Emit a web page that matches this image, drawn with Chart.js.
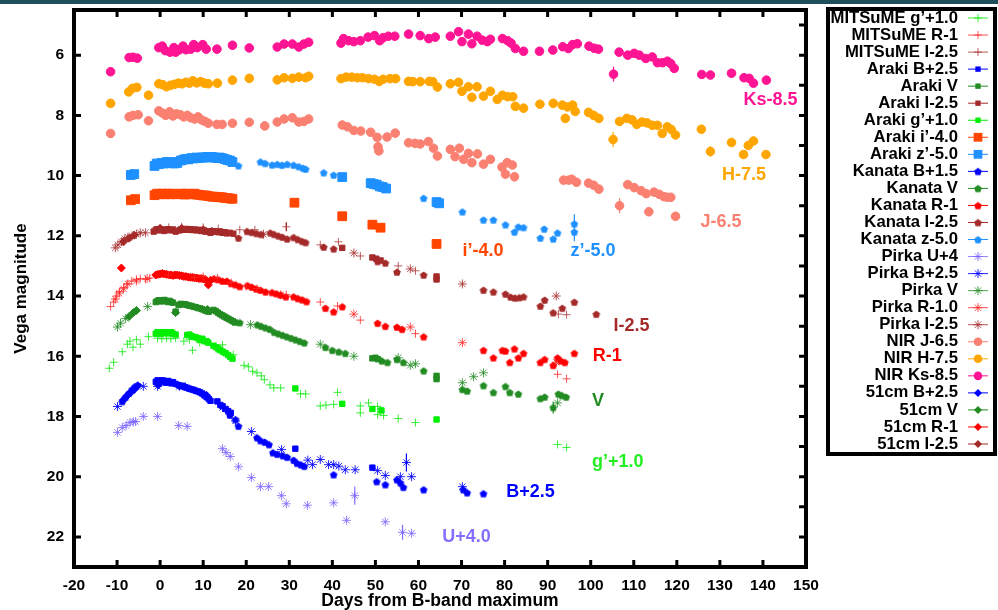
<!DOCTYPE html>
<html>
<head>
<meta charset="utf-8">
<script src="https://cdn.jsdelivr.net/npm/chart.js@4/dist/chart.umd.min.js"></script>
<style>
  html, body { margin: 0; padding: 0; background: #fff; }
  #wrap { position: relative; width: 998px; height: 610px; }
  #topbar { position: absolute; left: 0; top: 0; width: 998px; height: 4px; background: #1f4f5b; }
</style>
</head>
<body>
<div id="wrap">
  <canvas id="lc" width="998" height="610"></canvas>
  <div id="topbar"></div>
</div>
<script>
// Light curves: [day from B max, shifted Vega magnitude]
const mitsumeG = [[-11.8,16.4],[-10.8,16.2],[-8.8,15.85],[-7.6,15.6],[-7.0,15.5],[-6.3,15.7],[-5.5,15.45],[-4.6,15.6],[-2.7,15.35],[-0.6,15.4],[0.4,15.42],[1.5,15.4],[2.5,15.42],[3.6,15.4],[5.5,15.5],[6.8,15.45],[7.5,15.8],[9.2,15.55],[10.5,15.5],[13.0,15.75],[14.5,15.62],[16.0,16.0],[17.0,15.95],[19.5,16.3],[20.5,16.35],[21.5,16.5],[22.5,16.55],[23.5,16.65],[24.2,16.78],[25.5,16.95],[26.4,17.05],[28.0,17.05],[32.6,17.25],[33.8,17.25],[37.2,17.65],[38.5,17.62],[40.3,17.6],[41.2,17.2],[46.5,17.65],[46.5,17.88],[48.4,17.55],[50.5,17.67],[50.5,17.94],[51.9,17.97],[55.3,18.07],[59.3,18.2],[92.3,18.93],[94.4,19.03]];
const mitsumeR = [[-11.5,14.35],[-10.8,14.2],[-10.1,14.0],[-9.4,13.85],[-8.4,13.72],[-7.7,13.6],[-6.6,13.5],[-5.5,13.45],[-4.6,13.42],[-3.4,13.45],[-2.4,13.4],[2.0,13.3],[8.0,13.38],[10.0,13.35],[13.3,13.4],[16.5,13.55],[20.0,13.68],[22.5,13.75],[29.3,13.95],[37.2,14.2],[41.2,14.33],[46.5,14.8],[59.3,15.25],[92.3,16.6],[94.4,16.75]];
const mitsumeI = [[2.0,11.72],[5.0,11.7],[10.0,11.72],[13.5,11.76],[18.5,11.8],[22.0,11.8],[29.3,11.7],[37.2,12.3],[41.4,12.2],[46.5,12.67],[55.3,13.0],[59.3,13.16],[92.5,14.6],[94.4,14.62]];

const arakiB = [[-1.0,16.85],[-0.6,16.8],[-0.2,16.82],[0.2,16.86],[0.6,16.8],[1.0,16.83],[1.4,16.88],[1.8,16.82],[2.2,16.85],[2.6,16.9],[3.0,16.86],[3.6,16.92],[4.3,16.96],[4.8,17.0],[5.3,16.98],[5.8,17.03],[6.3,17.05],[6.8,17.08],[7.3,17.1],[7.8,17.12],[8.3,17.15],[8.8,17.17],[9.3,17.2],[9.8,17.24],[10.3,17.3],[10.8,17.36],[11.3,17.42],[11.7,17.48],[13.3,17.5],[14.0,17.62],[14.5,17.66],[15.2,17.75],[15.8,17.82],[16.4,17.88],[31.4,19.07],[49.3,19.7]];
const arakiV = [[-1.0,14.2],[-0.6,14.16],[-0.2,14.14],[0.2,14.18],[0.6,14.15],[1.0,14.13],[1.4,14.17],[1.8,14.2],[2.2,14.16],[2.6,14.2],[3.0,14.22],[3.6,14.52],[4.3,14.3],[4.8,14.26],[5.3,14.28],[5.8,14.27],[6.3,14.3],[6.8,14.32],[7.3,14.33],[7.8,14.36],[8.3,14.37],[8.8,14.4],[9.3,14.41],[9.8,14.44],[10.3,14.47],[10.8,14.5],[11.3,14.52],[12.4,14.46],[12.9,14.5],[13.4,14.55],[13.9,14.6],[14.4,14.64],[14.9,14.68],[15.4,14.72],[15.9,14.76],[16.4,14.8],[16.9,14.84],[17.4,14.88],[49.3,16.07],[50.0,16.05],[50.6,16.1],[64.2,16.65],[64.2,16.76]];
const arakiI = [[-1.5,11.86],[-1.0,11.8],[-0.6,11.78],[-0.2,11.82],[0.2,11.78],[0.6,11.8],[1.0,11.84],[1.4,11.8],[1.8,11.78],[2.2,11.8],[2.6,11.82],[3.0,11.79],[3.6,11.86],[4.5,11.82],[5.0,11.78],[5.5,11.8],[6.0,11.77],[6.5,11.8],[7.0,11.78],[7.5,11.81],[8.0,11.79],[8.5,11.82],[9.0,11.8],[9.5,11.84],[10.0,11.82],[10.5,11.86],[11.0,11.85],[11.7,11.9],[12.4,11.85],[13.0,11.86],[13.5,11.88],[14.0,11.86],[14.5,11.9],[15.0,11.88],[15.5,11.92],[16.2,11.9],[17.0,11.93],[42.3,12.4],[49.3,12.72],[50.2,12.76],[51.2,12.82],[64.2,13.35],[64.2,13.45]];
const arakiG = [[-1.0,15.25],[-0.6,15.2],[-0.2,15.22],[0.2,15.26],[0.6,15.2],[1.0,15.23],[1.4,15.2],[1.8,15.24],[2.2,15.22],[2.6,15.2],[3.0,15.25],[3.6,15.28],[6.3,15.3],[6.8,15.28],[7.3,15.33],[7.8,15.36],[8.3,15.37],[8.8,15.4],[9.3,15.45],[9.8,15.42],[10.3,15.5],[10.8,15.5],[11.2,15.55],[12.4,15.65],[13.0,15.7],[13.5,15.74],[14.0,15.8],[14.6,15.85],[15.2,15.9],[15.8,15.96],[16.3,16.02],[16.8,16.08],[31.4,17.07],[42.3,17.58],[49.3,17.75],[51.4,17.8],[64.2,18.1]];
const arakiIp = [[-6.8,10.82],[-5.8,10.78],[-1.3,10.65],[-0.7,10.6],[-0.1,10.62],[0.5,10.6],[1.1,10.62],[1.7,10.6],[2.3,10.62],[2.9,10.6],[3.6,10.62],[5.0,10.6],[5.6,10.63],[6.2,10.6],[6.8,10.62],[7.4,10.62],[8.0,10.6],[8.6,10.63],[9.2,10.64],[10.0,10.66],[10.6,10.66],[11.2,10.68],[12.0,10.7],[12.6,10.7],[13.2,10.71],[13.8,10.72],[14.4,10.72],[15.0,10.74],[15.6,10.75],[16.2,10.76],[16.8,10.77],[31.2,10.9],[42.3,11.35],[49.3,11.63],[51.2,11.73],[64.2,12.27]];
const arakiZp = [[-6.8,9.98],[-6.0,9.95],[-1.3,9.68],[-0.8,9.6],[-0.3,9.62],[0.3,9.58],[0.9,9.6],[1.5,9.55],[2.1,9.58],[2.7,9.55],[3.3,9.6],[4.0,9.58],[4.8,9.5],[5.4,9.47],[6.0,9.45],[6.6,9.46],[7.2,9.42],[7.8,9.43],[8.4,9.4],[9.0,9.42],[9.6,9.4],[10.2,9.4],[10.8,9.38],[11.4,9.4],[12.0,9.38],[12.6,9.4],[13.2,9.42],[13.8,9.4],[14.4,9.42],[15.0,9.45],[15.6,9.48],[16.2,9.5],[16.8,9.55],[42.3,10.05],[48.9,10.25],[49.6,10.28],[50.3,10.3],[51.0,10.36],[51.7,10.38],[52.5,10.43],[64.2,10.88],[64.8,10.92]];

const kanataB = [[-8.8,17.5],[-8.0,17.35],[-7.2,17.22],[-6.5,17.1],[-5.8,17.0],[16.2,17.95],[17.5,18.1],[18.2,18.32],[22.5,18.7],[23.3,18.8],[24.3,18.85],[25.3,18.93],[26.2,19.2],[27.2,19.25],[28.5,19.3],[29.5,19.35],[31.0,19.45],[31.8,19.55],[32.7,19.6],[33.5,19.65],[40.3,19.93],[50.3,20.16],[52.3,20.26],[55.0,20.1],[55.8,20.2],[56.5,20.35],[61.2,20.43],[70.4,20.43],[71.3,20.53],[75.1,20.56]];
const kanataV = [[18.5,14.88],[22.6,14.95],[23.5,15.0],[24.5,15.05],[25.5,15.1],[26.5,15.2],[27.5,15.25],[28.5,15.3],[29.5,15.35],[30.5,15.4],[31.5,15.45],[32.5,15.5],[33.5,15.55],[38.4,15.7],[40.0,15.8],[41.5,15.85],[43.0,15.9],[51.5,16.15],[52.8,16.2],[55.0,16.1],[56.5,16.2],[61.2,16.48],[70.2,17.1],[71.3,17.15],[75.1,16.97],[77.4,17.2],[80.2,17.0],[81.2,17.2],[83.2,17.25],[88.3,17.4],[89.3,17.35],[91.3,17.7],[92.5,17.25],[93.3,17.3],[94.3,17.35]];
const kanataR = [[12.5,13.42],[13.5,13.45],[14.5,13.5],[15.5,13.5],[16.5,13.58],[17.5,13.62],[18.5,13.68],[20.3,13.65],[21.3,13.7],[22.3,13.76],[23.3,13.8],[24.5,13.86],[26.0,13.88],[27.0,13.92],[28.0,13.96],[29.2,14.02],[31.0,14.02],[32.0,14.08],[33.0,14.12],[34.0,14.18],[38.4,14.4],[40.3,14.52],[42.3,14.35],[50.5,14.9],[52.3,15.0],[55.0,15.03],[56.2,15.1],[61.2,15.35],[75.1,15.8],[77.4,16.05],[79.5,15.8],[80.2,15.82],[81.2,16.2],[82.3,15.75],[83.2,16.05],[84.4,15.9],[88.3,16.2],[89.3,16.1],[91.3,16.3],[92.3,16.05],[93.1,16.15],[94.0,16.2],[96.2,15.9]];
const kanataI = [[18.2,12.07],[20.2,11.85],[21.3,11.88],[22.4,11.92],[23.5,11.95],[25.6,11.9],[26.5,11.95],[27.5,12.0],[28.4,12.04],[29.5,12.1],[31.0,12.05],[32.0,12.12],[33.0,12.18],[33.8,12.22],[38.0,12.37],[40.3,12.43],[50.5,12.85],[52.3,12.9],[55.0,13.2],[61.2,13.3],[75.1,13.8],[77.4,13.86],[80.2,13.93],[81.4,14.03],[82.4,14.06],[83.4,14.05],[84.4,14.02],[88.3,14.33],[89.3,14.13],[91.3,14.55],[93.4,14.4],[96.2,14.2],[101.3,14.6]];
const kanataZ = [[18.2,9.67],[23.3,9.54],[24.4,9.59],[26.0,9.64],[27.2,9.62],[28.3,9.65],[29.5,9.62],[31.0,9.65],[32.2,9.7],[33.2,9.75],[33.8,9.78],[38.0,9.9],[40.3,9.98],[61.2,10.75],[70.2,11.2],[75.1,11.47],[77.4,11.47],[80.2,11.63],[82.3,11.87],[83.2,11.7],[84.4,11.72],[88.3,12.07],[89.2,11.77],[91.3,12.1],[92.3,11.9],[96.2,11.6],[96.2,11.87]];

const pirkaU = [[-9.9,18.53],[-8.8,18.37],[-7.9,18.3],[-7.0,18.2],[-6.2,18.18],[-5.7,18.17],[-3.9,18.0],[-0.6,18.0],[4.3,18.3],[6.3,18.33],[14.5,19.07],[15.3,19.2],[16.3,19.33],[18.2,19.67],[21.2,20.03],[23.3,20.33],[25.2,20.33],[28.2,20.63],[29.3,20.9],[34.2,20.95],[40.3,20.87],[43.3,21.45],[45.2,20.63],[52.3,21.5],[56.3,21.85],[58.4,21.88]];
const pirkaB = [[-9.9,17.67],[-3.9,17.0],[-0.6,17.0],[4.5,17.0],[14.5,17.7],[17.5,18.15],[21.2,18.5],[28.2,19.1],[34.3,19.45],[35.4,19.6],[37.2,19.43],[39.1,19.6],[40.3,19.6],[41.5,19.65],[43.0,19.77],[45.3,19.77],[50.5,19.8],[52.3,19.96],[55.8,20.0],[57.2,19.53],[58.4,20.0],[70.2,20.33]];
const pirkaV = [[-9.9,15.03],[-9.2,14.9],[-8.0,14.75],[-2.9,14.35],[21.0,14.95],[37.2,15.6],[45.0,16.0],[55.3,16.05],[58.1,16.3],[59.3,16.25],[70.2,16.88],[72.8,16.68],[75.1,16.55],[92.3,17.55]];
const pirkaR = [[-10.4,14.1],[-9.5,13.9],[-8.5,13.76],[-7.5,13.6],[-5.5,13.5],[-3.0,13.42],[28.0,13.96],[45.0,14.6],[58.1,15.03],[70.2,15.55],[92.0,16.2]];
const pirkaI = [[-10.4,12.4],[-9.8,12.3],[-9.0,12.2],[-8.2,12.1],[-7.5,12.05],[-6.5,12.0],[-5.5,11.95],[-4.6,11.9],[-3.4,11.9],[24.0,11.95],[45.0,12.57],[58.1,13.1],[70.2,13.6],[92.0,14.0]];

const nirJ = [[-11.5,8.6],[-7.2,8.05],[-6.3,8.0],[-5.1,7.98],[-2.7,8.18],[-0.3,7.85],[0.5,7.92],[1.3,8.0],[2.2,7.88],[3.0,8.02],[3.8,7.95],[4.7,7.98],[5.5,8.05],[6.3,8.0],[7.1,8.08],[8.0,8.12],[8.8,8.05],[9.6,8.15],[10.4,8.2],[11.2,8.26],[13.2,8.3],[14.4,8.3],[16.8,8.26],[20.7,8.23],[24.3,8.35],[27.2,8.22],[28.8,8.12],[30.7,8.08],[32.2,8.22],[33.4,8.2],[34.5,8.12],[42.3,8.32],[43.5,8.38],[45.0,8.5],[46.6,8.52],[48.9,8.56],[50.4,8.73],[50.6,9.04],[50.8,9.18],[52.7,8.72],[54.6,8.59],[57.7,8.91],[59.2,8.93],[60.4,8.95],[62.3,8.87],[63.5,9.09],[64.4,9.35],[67.4,9.13],[68.5,9.37],[69.5,9.09],[70.5,9.46],[71.6,9.26],[72.4,9.57],[73.7,9.28],[75.1,9.62],[76.7,9.46],[79.4,9.72],[80.6,9.57],[81.8,9.65],[80.2,9.95],[82.3,10.04],[93.7,10.15],[94.9,10.15],[95.6,10.12],[96.7,10.22],[99.5,10.25],[100.7,10.32],[101.9,10.45],[106.7,11.0],[108.6,10.3],[110.1,10.4],[111.7,10.5],[112.9,10.6],[113.5,11.2],[114.7,10.55],[115.9,10.62],[117.0,10.7],[117.8,10.72],[118.6,10.72],[119.7,11.35]];
const nirH = [[-11.5,7.6],[-7.3,7.22],[-6.4,7.1],[-5.4,7.07],[-2.7,7.33],[-0.3,6.95],[0.6,6.98],[1.5,7.05],[2.4,7.0],[3.3,6.97],[4.2,6.93],[5.1,6.95],[6.0,6.9],[6.8,6.93],[7.6,6.85],[8.5,6.92],[9.4,6.88],[10.3,6.93],[11.2,6.95],[13.3,6.93],[16.8,6.83],[20.7,6.77],[27.2,6.82],[28.8,6.75],[30.7,6.77],[32.2,6.73],[33.8,6.75],[34.5,6.7],[42.0,6.78],[43.2,6.73],[44.5,6.73],[45.8,6.75],[47.0,6.75],[48.4,6.78],[49.8,6.8],[50.9,6.87],[51.8,6.8],[53.4,6.78],[54.7,6.78],[57.7,6.87],[58.7,6.88],[60.4,6.88],[62.5,6.87],[63.3,6.88],[64.4,7.06],[67.4,6.95],[69.3,6.9],[70.1,7.2],[71.6,7.05],[72.4,7.4],[73.6,7.05],[75.1,7.36],[76.7,7.2],[78.3,7.47],[79.5,7.33],[80.7,7.38],[81.9,7.38],[82.5,7.7],[84.4,7.76],[88.2,7.63],[91.3,7.6],[93.4,7.66],[94.6,7.72],[95.8,7.66],[94.1,8.1],[96.4,7.87],[99.5,7.9],[100.7,8.0],[101.9,8.1],[105.2,8.8],[106.7,8.2],[108.4,8.1],[109.6,8.15],[110.7,8.3],[111.9,8.22],[113.1,8.25],[114.3,8.33],[115.5,8.33],[116.6,8.6],[117.8,8.38],[118.7,8.47],[119.7,8.65],[125.7,8.46],[127.8,9.2],[132.7,8.9],[135.5,9.3],[136.6,9.0],[137.8,8.85],[140.7,9.3]];
const nirKs = [[-11.5,6.55],[-7.2,6.08],[-6.3,6.07],[-5.3,6.1],[-0.3,5.75],[0.5,5.7],[1.2,5.85],[2.3,5.9],[3.2,5.75],[3.6,5.9],[4.5,5.82],[5.3,5.7],[6.0,5.82],[7.1,5.8],[7.8,5.65],[8.6,5.75],[9.9,5.65],[10.7,5.8],[13.2,5.8],[16.8,5.67],[20.7,5.76],[27.2,5.73],[28.8,5.63],[30.7,5.63],[32.2,5.73],[33.4,5.63],[34.5,5.57],[42.0,5.6],[42.6,5.45],[43.8,5.52],[45.0,5.55],[46.5,5.52],[48.3,5.4],[49.8,5.35],[51.0,5.52],[51.8,5.42],[53.0,5.37],[54.5,5.37],[57.7,5.3],[60.4,5.35],[62.4,5.45],[63.9,5.4],[67.4,5.37],[69.3,5.22],[70.1,5.55],[71.6,5.3],[72.4,5.62],[73.6,5.37],[74.8,5.5],[76.0,5.55],[76.7,5.47],[79.5,5.45],[80.7,5.52],[81.5,5.6],[82.5,5.78],[84.4,5.87],[88.1,5.87],[91.2,5.83],[93.5,5.72],[94.8,5.78],[95.8,5.65],[96.9,5.62],[99.6,5.7],[100.8,5.77],[101.8,5.8],[105.3,6.63],[106.6,5.9],[108.6,6.0],[110.1,5.94],[111.3,6.0],[112.8,6.11],[114.3,6.06],[115.5,6.25],[116.7,6.25],[117.8,6.2],[118.6,6.28],[119.4,6.44],[125.8,6.64],[127.8,6.66],[132.7,6.6],[135.6,6.75],[136.8,6.77],[137.8,6.93],[140.8,6.83]];

const c51B = [[-8.5,17.45],[-7.6,17.3],[-6.8,17.2],[-6.0,17.1],[-5.2,16.98],[-0.4,16.95],[10.8,17.3]];
const c51V = [[-7.2,14.68],[-6.2,14.55],[-5.5,14.48],[3.6,14.55],[11.0,14.45]];
const c51R = [[-9.0,13.07],[-1.0,13.3],[-0.5,13.28],[0.0,13.27],[0.5,13.25],[1.0,13.27],[1.5,13.28],[2.0,13.3],[2.5,13.3],[3.0,13.32],[3.5,13.3],[4.0,13.3],[4.5,13.32],[5.0,13.33],[5.5,13.35],[6.0,13.35],[6.5,13.37],[7.0,13.38],[7.5,13.38],[8.0,13.4],[8.5,13.4],[9.0,13.42],[9.5,13.42],[10.0,13.43],[10.5,13.45],[11.2,13.63],[11.7,13.48]];
const c51I = [[-8.5,12.2],[-7.2,12.08],[-6.0,11.98],[0.0,11.75],[5.0,11.75],[10.0,11.8],[12.0,11.85]];

// the larger error bars that show: [day, mag, half length in mag, colour]
const errBars = [
  [105.3, 6.63, 0.25, '#ff1493'],
  [127.8, 6.66, 0.12, '#ff1493'],
  [105.2, 8.8, 0.25, '#ffa500'],
  [127.8, 9.2, 0.18, '#ffa500'],
  [140.7, 9.3, 0.15, '#ffa500'],
  [106.7, 11.0, 0.25, '#fa8072'],
  [113.5, 11.2, 0.15, '#fa8072'],
  [119.7, 11.35, 0.12, '#fa8072'],
  [80.2, 9.95, 0.15, '#fa8072'],
  [82.3, 10.04, 0.15, '#fa8072'],
  [96.2, 11.73, 0.45, '#1e90ff'],
  [29.3, 11.7, 0.15, '#a52a2a'],
  [91.3, 17.7, 0.2, '#228b22'],
  [57.2, 19.53, 0.3, '#0000ff'],
  [45.2, 20.63, 0.3, '#8470ff'],
  [56.3, 21.85, 0.25, '#8470ff']
];

// axis ticks
const xTicks = [-20, -10, 0, 10, 20, 30, 40, 50, 60, 70, 80, 90, 100, 110, 120, 130, 140, 150];
const yTicks = [6, 8, 10, 12, 14, 16, 18, 20, 22];
const yMinorTicks = [5, 6, 7, 8, 9, 10, 11, 12, 13, 14, 15, 16, 17, 18, 19, 20, 21, 22];

// band names written next to the curves: [text, day, mag, colour]
const bandLabels = [
  ['Ks-8.5', 135.5, 7.49, '#ff1493'],
  ['H-7.5', 130.5, 9.98, '#ffa500'],
  ['J-6.5', 125.5, 11.53, '#fa8072'],
  ['i’-4.0', 70.2, 12.52, '#ff4500'],
  ['z’-5.0', 95.3, 12.52, '#1e90ff'],
  ['I-2.5', 105.3, 15.01, '#a52a2a'],
  ['R-1', 100.5, 16.0, '#ff0000'],
  ['V', 100.3, 17.5, '#228b22'],
  ['g’+1.0', 100.3, 19.52, '#22ee22'],
  ['B+2.5', 80.4, 20.52, '#0000ff'],
  ['U+4.0', 65.5, 22.0, '#8470ff']
];

const FONT = '"Liberation Sans", Arial, Helvetica, sans-serif';

function pentagon(color, r) {
  const c = document.createElement('canvas');
  const s = Math.ceil(r * 2 + 2);
  c.width = s; c.height = s;
  const g = c.getContext('2d');
  g.fillStyle = color;
  g.beginPath();
  for (let i = 0; i < 5; i++) {
    const a = -Math.PI / 2 + i * 2 * Math.PI / 5;
    const px = s / 2 + r * Math.cos(a), py = s / 2 + r * Math.sin(a) + 0.4;
    if (i) g.lineTo(px, py); else g.moveTo(px, py);
  }
  g.closePath();
  g.fill();
  return c;
}

const series = [
  { label: 'MITSuME g’+1.0', data: mitsumeG, style: 'cross', color: 'rgba(20,235,20,0.85)', r: 4 },
  { label: 'MITSuME R-1', data: mitsumeR, style: 'cross', color: 'rgba(255,40,40,0.8)', r: 4 },
  { label: 'MITSuME I-2.5', data: mitsumeI, style: 'cross', color: 'rgba(165,42,42,0.75)', r: 4 },
  { label: 'Araki B+2.5', data: arakiB, style: 'rect', color: '#0000ff', r: 3.8 },
  { label: 'Araki V', data: arakiV, style: 'rect', color: '#228b22', r: 3.8 },
  { label: 'Araki I-2.5', data: arakiI, style: 'rect', color: '#a52a2a', r: 3.8 },
  { label: 'Araki g’+1.0', data: arakiG, style: 'rect', color: '#00ee00', r: 3.8 },
  { label: 'Araki i’-4.0', data: arakiIp, style: 'rect', color: '#ff4500', r: 6.2 },
  { label: 'Araki z’-5.0', data: arakiZp, style: 'rect', color: '#1e90ff', r: 6.2 },
  { label: 'Kanata B+1.5', data: kanataB, style: pentagon('#0000ff', 4), color: '#0000ff', r: 4 },
  { label: 'Kanata V', data: kanataV, style: pentagon('#228b22', 4), color: '#228b22', r: 4 },
  { label: 'Kanata R-1', data: kanataR, style: pentagon('#ff0000', 4), color: '#ff0000', r: 4 },
  { label: 'Kanata I-2.5', data: kanataI, style: pentagon('#a52a2a', 4), color: '#a52a2a', r: 4 },
  { label: 'Kanata z-5.0', data: kanataZ, style: pentagon('#1e90ff', 4), color: '#1e90ff', r: 4 },
  { label: 'Pirka U+4', data: pirkaU, style: 'star', color: 'rgba(120,100,255,0.8)', r: 4.5 },
  { label: 'Pirka B+2.5', data: pirkaB, style: 'star', color: 'rgba(0,0,255,0.85)', r: 4.5 },
  { label: 'Pirka V', data: pirkaV, style: 'star', color: 'rgba(34,139,34,0.8)', r: 4.5 },
  { label: 'Pirka R-1.0', data: pirkaR, style: 'star', color: 'rgba(255,40,40,0.8)', r: 4.5 },
  { label: 'Pirka I-2.5', data: pirkaI, style: 'star', color: 'rgba(165,42,42,0.8)', r: 4.5 },
  { label: 'NIR J-6.5', data: nirJ, style: 'circle', color: '#fa8072', r: 4.3 },
  { label: 'NIR H-7.5', data: nirH, style: 'circle', color: '#ffa500', r: 4.3 },
  { label: 'NIR Ks-8.5', data: nirKs, style: 'circle', color: '#ff1493', r: 4.3 },
  { label: '51cm B+2.5', data: c51B, style: 'rectRot', color: '#0000ff', r: 4 },
  { label: '51cm V', data: c51V, style: 'rectRot', color: '#228b22', r: 4 },
  { label: '51cm R-1', data: c51R, style: 'rectRot', color: '#ff0000', r: 4 },
  { label: '51cm I-2.5', data: c51I, style: 'rectRot', color: '#a52a2a', r: 4 }
];

// own marker drawing for the key
function drawKeyMarker(ctx, s, x, y) {
  ctx.save();
  ctx.fillStyle = s.color;
  ctx.strokeStyle = s.color;
  ctx.lineWidth = 1;
  ctx.beginPath();
  ctx.moveTo(x - 10, y); ctx.lineTo(x + 10, y);
  ctx.stroke();
  const r = s.r;
  ctx.beginPath();
  if (s.style instanceof HTMLCanvasElement) {
    ctx.drawImage(s.style, x - s.style.width / 2, y - s.style.height / 2);
  } else if (s.style === 'cross') {
    ctx.moveTo(x - r, y); ctx.lineTo(x + r, y);
    ctx.moveTo(x, y - r); ctx.lineTo(x, y + r);
    ctx.stroke();
  } else if (s.style === 'star') {
    ctx.moveTo(x - r, y); ctx.lineTo(x + r, y);
    ctx.moveTo(x, y - r); ctx.lineTo(x, y + r);
    const d = r * Math.SQRT1_2;
    ctx.moveTo(x - d, y - d); ctx.lineTo(x + d, y + d);
    ctx.moveTo(x - d, y + d); ctx.lineTo(x + d, y - d);
    ctx.stroke();
  } else if (s.style === 'rect') {
    const h = r * Math.SQRT1_2;
    ctx.fillRect(x - h, y - h, 2 * h, 2 * h);
  } else if (s.style === 'circle') {
    ctx.arc(x, y, r, 0, Math.PI * 2);
    ctx.fill();
  } else if (s.style === 'rectRot') {
    ctx.moveTo(x, y - r); ctx.lineTo(x + r, y); ctx.lineTo(x, y + r); ctx.lineTo(x - r, y);
    ctx.closePath();
    ctx.fill();
  }
  ctx.restore();
}

const errBarPlugin = {
  id: 'errBars',
  beforeDatasetsDraw(chart) {
    const { ctx, scales: { x, y } } = chart;
    ctx.save();
    ctx.lineWidth = 1.2;
    errBars.forEach(([d, m, e, c]) => {
      const px = x.getPixelForValue(d);
      ctx.strokeStyle = c;
      ctx.beginPath();
      ctx.moveTo(px, y.getPixelForValue(m - e));
      ctx.lineTo(px, y.getPixelForValue(m + e));
      ctx.stroke();
    });
    ctx.restore();
  }
};

const framePlugin = {
  id: 'frame',
  afterDatasetsDraw(chart) {
    const { ctx, chartArea: a, scales: { x, y } } = chart;
    ctx.save();
    ctx.strokeStyle = '#000';
    ctx.lineWidth = 3;
    ctx.beginPath();
    xTicks.forEach(v => {
      const px = x.getPixelForValue(v);
      ctx.moveTo(px, a.bottom); ctx.lineTo(px, a.bottom - 7);
      ctx.moveTo(px, a.top); ctx.lineTo(px, a.top + 7);
    });
    yTicks.forEach(v => {
      const py = y.getPixelForValue(v);
      ctx.moveTo(a.left, py); ctx.lineTo(a.left + 7, py);
    });
    yMinorTicks.forEach(v => {
      const py = y.getPixelForValue(v);
      ctx.moveTo(a.right, py); ctx.lineTo(a.right - 7, py);
    });
    ctx.stroke();
    ctx.lineWidth = 4;
    ctx.strokeRect(a.left, a.top, a.right - a.left, a.bottom - a.top);
    ctx.restore();
  }
};

const bandLabelPlugin = {
  id: 'bandLabels',
  afterDatasetsDraw(chart) {
    const { ctx, scales: { x, y } } = chart;
    ctx.save();
    ctx.font = 'bold 18px ' + FONT;
    ctx.textAlign = 'left';
    ctx.textBaseline = 'middle';
    bandLabels.forEach(([t, d, m, c]) => {
      ctx.fillStyle = c;
      ctx.fillText(t, x.getPixelForValue(d), y.getPixelForValue(m));
    });
    ctx.restore();
  }
};

const keyPlugin = {
  id: 'key',
  afterDraw(chart) {
    const { ctx } = chart;
    ctx.save();
    ctx.strokeStyle = '#000';
    ctx.lineWidth = 4;
    ctx.strokeRect(828, 9, 167, 445);
    ctx.font = 'bold 16.7px ' + FONT;
    ctx.textAlign = 'right';
    ctx.textBaseline = 'middle';
    series.forEach((s, i) => {
      const yy = 18 + i * 17.04;
      ctx.fillStyle = '#000';
      ctx.fillText(s.label, 958, yy);
      drawKeyMarker(ctx, s, 978, yy);
    });
    ctx.restore();
  }
};

const datasets = series.map(s => ({
  label: s.label,
  data: s.data.map(([d, m]) => ({ x: d, y: m })),
  pointStyle: s.style,
  pointRadius: s.r,
  pointHoverRadius: s.r,
  backgroundColor: s.color,
  borderColor: s.color,
  borderWidth: 1,
  showLine: false
}));

new Chart(document.getElementById('lc'), {
  type: 'scatter',
  data: { datasets },
  options: {
    responsive: false,
    animation: false,
    layout: { padding: { top: 10, right: 192, bottom: 0, left: 0 } },
    plugins: {
      legend: { display: false },
      tooltip: { enabled: false }
    },
    scales: {
      x: {
        type: 'linear',
        min: -20,
        max: 150,
        afterBuildTicks: s => { s.ticks = xTicks.map(v => ({ value: v })); },
        afterFit: s => { s.height = 43; s.paddingLeft = 0; s.paddingRight = 0; },
        grid: { display: false, drawTicks: false, tickLength: 0 },
        border: { display: false },
        ticks: { color: '#000', font: { family: FONT, size: 15.5, weight: 'bold' }, padding: 9, maxRotation: 0 },
        title: { display: true, text: 'Days from B-band maximum', color: '#000', font: { family: FONT, size: 17.5, weight: 'bold', lineHeight: 1.0 }, padding: { top: 0, bottom: 0 } }
      },
      y: {
        type: 'linear',
        reverse: true,
        min: 4.5,
        max: 23,
        afterBuildTicks: s => { s.ticks = yTicks.map(v => ({ value: v })); },
        afterFit: s => { s.width = 74; s.paddingTop = 0; s.paddingBottom = 0; },
        grid: { display: false, drawTicks: false, tickLength: 0 },
        border: { display: false },
        ticks: { color: '#000', font: { family: FONT, size: 15.5, weight: 'bold' }, padding: 10 },
        title: { display: true, text: 'Vega magnitude', color: '#000', font: { family: FONT, size: 17, weight: 'bold' }, padding: { top: 11, bottom: 0 } }
      }
    }
  },
  plugins: [errBarPlugin, framePlugin, bandLabelPlugin, keyPlugin]
});
</script>
</body>
</html>
